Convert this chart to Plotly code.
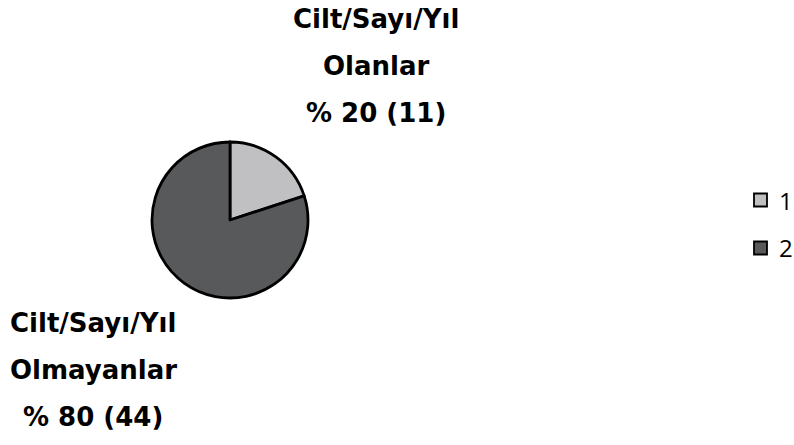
import plotly.graph_objects as go

# Slice data
labels = ["1", "2"]
values = [11, 44]
group_names = ["Olanlar", "Olmayanlar"]
heading = "Cilt/Sayı/Yıl"
colors = ["#c0c0c2", "#58595b"]

W, H = 794, 445
total = sum(values)
pct = [round(100 * v / total) for v in values]

fig = go.Figure(
    go.Pie(
        labels=labels,
        values=values,
        sort=False,
        direction="clockwise",
        rotation=0,
        textinfo="none",
        hoverinfo="label+value+percent",
        marker=dict(colors=colors, line=dict(color="#000000", width=2.8)),
        domain=dict(x=[152 / W, 308 / W], y=[1 - 298 / H, 1 - 142 / H]),
        showlegend=False,
    )
)

label_font = dict(family="DejaVu Sans, Comic Sans MS", size=26, color="#000000", weight="bold")

# Outside labels: one block per slice (x centre, y of first line, line gap in px)
blocks = [(376, 19, 47), (93, 323, 47)]
annotations = []
for (cx, y0, gap), name, p, v in zip(blocks, group_names, pct, values):
    lines = [heading, name, f"% {p} ({v})"]
    for k, line in enumerate(lines):
        annotations.append(dict(
            text=line, x=cx / W, y=1 - (y0 + k * gap) / H,
            xref="paper", yref="paper", xanchor="center", yanchor="middle",
            showarrow=False, font=label_font,
        ))

# Legend on the right
shapes = []
legend_y = [200, 248]
for lab, col, ly in zip(labels, colors, legend_y):
    shapes.append(dict(
        type="rect", xref="paper", yref="paper",
        x0=754 / W, x1=767 / W, y0=1 - (ly + 6.5) / H, y1=1 - (ly - 6.5) / H,
        fillcolor=col, line=dict(color="#000000", width=1.8),
    ))
    annotations.append(dict(
        text=lab, x=777 / W, y=1 - ly / H, xref="paper", yref="paper",
        xanchor="left", yanchor="middle", showarrow=False,
        font=dict(family="Open Sans, DejaVu Sans", size=24, color="#000000"),
    ))

fig.update_layout(
    width=W, height=H,
    margin=dict(l=0, r=0, t=0, b=0),
    paper_bgcolor="#ffffff", plot_bgcolor="#ffffff",
    annotations=annotations, shapes=shapes,
)

fig.write_html("out.html")
